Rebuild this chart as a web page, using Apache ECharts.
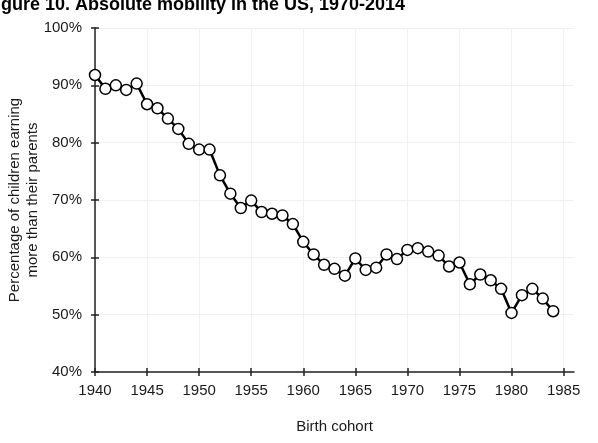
<!DOCTYPE html>
<html>
<head>
<meta charset="utf-8">
<script src="https://cdn.jsdelivr.net/npm/echarts@6/dist/echarts.min.js"></script>
<style>
html,body{margin:0;padding:0;background:#fff;}
#chart{width:598px;height:443px;}
</style>
</head>
<body>
<div id="chart"></div>
<script>
const years = [1940,1941,1942,1943,1944,1945,1946,1947,1948,1949,1950,1951,1952,1953,1954,1955,1956,1957,1958,1959,1960,1961,1962,1963,1964,1965,1966,1967,1968,1969,1970,1971,1972,1973,1974,1975,1976,1977,1978,1979,1980,1981,1982,1983,1984];
const mobility = [91.8,89.4,90.0,89.2,90.3,86.7,86.0,84.2,82.4,79.8,78.8,78.8,74.3,71.1,68.6,69.9,67.9,67.6,67.3,65.8,62.7,60.5,58.7,58.0,56.8,59.8,57.8,58.2,60.5,59.7,61.3,61.6,61.0,60.3,58.4,59.1,55.3,57.0,56.0,54.5,50.3,53.4,54.5,52.8,50.6];
const xTicks = [1940,1945,1950,1955,1960,1965,1970,1975,1980,1985];
const yTicks = [40,50,60,70,80,90,100];
const titleText = 'Figure 10. Absolute mobility in the US, 1970-2014';
const xName = 'Birth cohort';
const yName = 'Percentage of children earning\nmore than their parents';

const chart = echarts.init(document.getElementById('chart'), null, {renderer:'canvas'});
const font = 'Liberation Sans, Arial, sans-serif';
const axisColor = '#222';
const txtColor = '#1a1a1a';
const baseX = {
  type:'value', min:1940, max:1986, interval:5,
  axisLine:{show:true, lineStyle:{color:axisColor, width:1.5}},
};
const baseY = {
  type:'value', min:40, max:100, interval:10,
  axisLine:{show:true, lineStyle:{color:axisColor, width:1.5}},
};
chart.setOption({
  animation:false,
  backgroundColor:'#fff',
  title:{
    text:titleText, left:-20, top:-9,
    textStyle:{fontFamily:font, fontWeight:'bold', fontSize:18, color:'#000'}
  },
  grid:{left:95, right:24, top:28, bottom:71, containLabel:false, outerBoundsMode:'none'},
  xAxis:[
    Object.assign({}, baseX, {
      name:xName, nameLocation:'middle', nameGap:47, nameMoveOverlap:false,
      nameTextStyle:{fontFamily:font, fontSize:15, color:txtColor},
      axisTick:{show:true, length:4, lineStyle:{color:axisColor, width:1.5}, customValues:xTicks},
      axisLabel:{fontFamily:font, fontSize:15, color:txtColor, margin:11, customValues:xTicks,
                 formatter:(v)=>String(v)},
      splitLine:{show:true, lineStyle:{color:'#f0f0f0', width:1}}
    }),
    Object.assign({}, baseX, {
      position:'bottom', axisLine:{show:false},
      axisTick:{show:true, inside:true, length:4, lineStyle:{color:axisColor, width:1.5}, customValues:xTicks},
      axisLabel:{show:false}, splitLine:{show:false}
    })
  ],
  yAxis:[
    Object.assign({}, baseY, {
      name:yName, nameLocation:'middle', nameGap:53, nameMoveOverlap:false,
      nameTextStyle:{fontFamily:font, fontSize:15, color:txtColor, lineHeight:18},
      axisTick:{show:true, length:4, lineStyle:{color:axisColor, width:1.5}},
      axisLabel:{fontFamily:font, fontSize:15, color:txtColor, margin:13, formatter:'{value}%'},
      splitLine:{show:true, lineStyle:{color:'#f0f0f0', width:1}}
    }),
    Object.assign({}, baseY, {
      position:'left', axisLine:{show:false},
      axisTick:{show:true, inside:true, length:4, lineStyle:{color:axisColor, width:1.5}},
      axisLabel:{show:false}, splitLine:{show:false}
    })
  ],
  series:[{
    type:'line',
    data:years.map((y,i)=>[y, mobility[i]]),
    lineStyle:{color:'#000', width:2.5},
    symbol:'circle', symbolSize:11,
    itemStyle:{color:'#fff', borderColor:'#000', borderWidth:1.5},
    z:5
  }]
});
</script>
</body>
</html>
